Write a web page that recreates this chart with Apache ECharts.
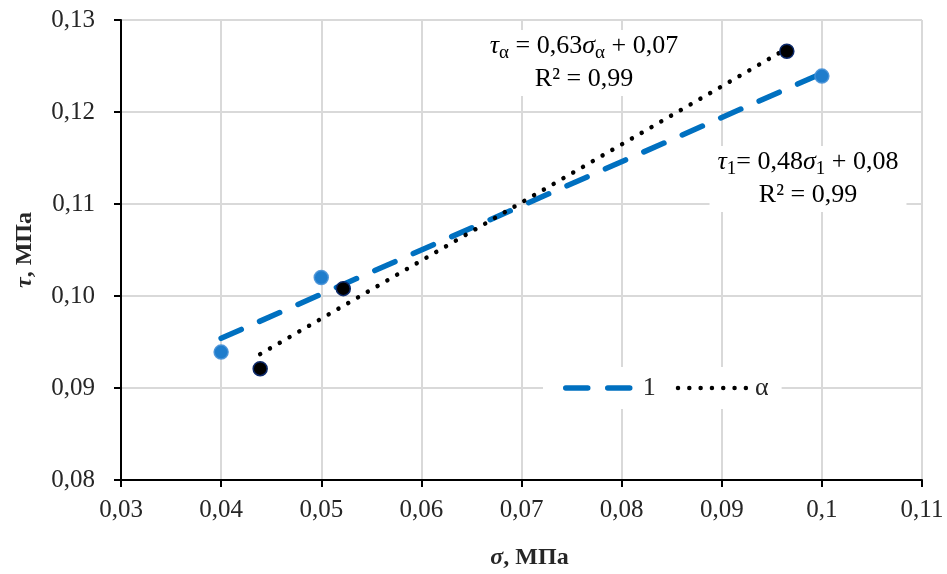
<!DOCTYPE html>
<html>
<head>
<meta charset="utf-8">
<script src="https://cdn.jsdelivr.net/npm/echarts@6/dist/echarts.min.js"></script>
<style>
html,body{margin:0;padding:0;background:#fff;}
#chart{width:947px;height:574px;}
</style>
</head>
<body>
<div id="chart"></div>
<script>
// ---- data ----
var series1X = [0.04, 0.05, 0.10];
var series1Y = [0.0939, 0.1020, 0.1239];
var seriesAX = [0.0439, 0.0522, 0.0965];
var seriesAY = [0.0921, 0.1008, 0.1266];
var legendNames = ['1', 'α'];
var xTickLabels = ['0,03','0,04','0,05','0,06','0,07','0,08','0,09','0,1','0,11'];
var yTickLabels = ['0,08','0,09','0,10','0,11','0,12','0,13'];
var xMin = 0.03, xMax = 0.11, xStep = 0.01;
var yMin = 0.08, yMax = 0.13, yStep = 0.01;

function zip(xs, ys){ return xs.map(function(x,i){ return [x, ys[i]]; }); }
function fit(xs, ys){
  var n = xs.length, mx = 0, my = 0;
  for (var i=0;i<n;i++){ mx += xs[i]; my += ys[i]; }
  mx/=n; my/=n;
  var sxx=0, sxy=0;
  for (i=0;i<n;i++){ sxx += (xs[i]-mx)*(xs[i]-mx); sxy += (xs[i]-mx)*(ys[i]-my); }
  var b = sxy/sxx, a = my - b*mx;
  var lo = Math.min.apply(null, xs), hi = Math.max.apply(null, xs);
  return [[lo, a+b*lo],[hi, a+b*hi]];
}

var FONT = '"Liberation Serif", "Times New Roman", serif';
var chart = echarts.init(document.getElementById('chart'), null, {renderer:'canvas'});

var blueLine = {color: '#0070C0', width: 5.5, type: [22, 20], cap: 'round'};
var dotLine = {color: '#000000', width: 4.5, type: [0.01, 11.3], cap: 'round'};

var option = {
  backgroundColor: '#ffffff',
  animation: false,
  grid: {left: 121, right: 25, top: 20, bottom: 94, containLabel: false, outerBoundsMode: 'none'},
  xAxis: {
    type: 'value', min: xMin, max: xMax, interval: xStep,
    name: '{i|σ}{b|, МПа}', nameLocation: 'middle', nameGap: 66,
    nameTextStyle: {
      padding: [0, 0, 0, 16],
      rich: {
        i: {fontFamily: FONT, fontSize: 24, fontWeight: 'bold', fontStyle: 'italic', color: '#262626'},
        b: {fontFamily: FONT, fontSize: 24, fontWeight: 'bold', color: '#262626'}
      }
    },
    axisLine: {show: true, onZero: false, lineStyle: {color: '#000', width: 2}},
    axisTick: {show: true, inside: false, length: 7, lineStyle: {color: '#000', width: 2}},
    axisLabel: {
      margin: 18, fontFamily: FONT, fontSize: 25, color: '#262626',
      formatter: function(v){ return xTickLabels[Math.round((v - xMin)/xStep)]; }
    },
    splitLine: {show: true, lineStyle: {color: '#d9d9d9', width: 2}}
  },
  yAxis: {
    type: 'value', min: yMin, max: yMax, interval: yStep,
    name: '{i|τ}{b|, МПа}', nameLocation: 'middle', nameGap: 84, nameRotate: 90,
    nameTextStyle: {
      rich: {
        i: {fontFamily: FONT, fontSize: 24, fontWeight: 'bold', fontStyle: 'italic', color: '#262626'},
        b: {fontFamily: FONT, fontSize: 24, fontWeight: 'bold', color: '#262626'}
      }
    },
    axisLine: {show: true, onZero: false, lineStyle: {color: '#000', width: 2}},
    axisTick: {show: true, inside: false, length: 7, lineStyle: {color: '#000', width: 2}},
    axisLabel: {
      margin: 26, fontFamily: FONT, fontSize: 25, color: '#262626',
      formatter: function(v){ return yTickLabels[Math.round((v - yMin)/yStep)]; }
    },
    splitLine: {show: true, lineStyle: {color: '#d9d9d9', width: 2}}
  },
  legend: {
    show: true,
    data: [
      {name: legendNames[0], itemStyle: {opacity: 0}, lineStyle: blueLine},
      {name: legendNames[1], itemStyle: {opacity: 0}, lineStyle: dotLine}
    ],
    left: 543, top: 367,
    backgroundColor: '#ffffff',
    padding: [8, 13, 8, 20],
    itemGap: 20,
    itemWidth: 72, itemHeight: 14,
    itemStyle: {opacity: 0},
    lineStyle: {width: 'inherit', type: 'inherit', cap: 'round'},
    textStyle: {fontFamily: FONT, fontSize: 26, color: '#262626'}
  },
  series: [
    {
      name: legendNames[0], type: 'line', data: fit(series1X, series1Y),
      showSymbol: false, symbol: 'none', z: 3,
      lineStyle: blueLine,
      itemStyle: {color: '#0070C0'}
    },
    {
      name: legendNames[1], type: 'line', data: fit(seriesAX, seriesAY),
      showSymbol: false, symbol: 'none', z: 3,
      lineStyle: dotLine,
      itemStyle: {color: '#000000'}
    },
    {
      name: 'pts1', type: 'scatter', data: zip(series1X, series1Y),
      symbol: 'circle', symbolSize: 14, z: 4,
      itemStyle: {color: '#1f7dcc', opacity: 1, borderColor: 'rgba(70,145,215,0.9)', borderWidth: 1.5}
    },
    {
      name: 'ptsA', type: 'scatter', data: zip(seriesAX, seriesAY),
      symbol: 'circle', symbolSize: 14, z: 4,
      itemStyle: {color: '#000000', opacity: 1, borderColor: '#0d2a6b', borderWidth: 1.5}
    }
  ]
};
chart.setOption(option);

var eqRich = {
  n: {fontFamily: FONT, fontSize: 26, color: '#262626', lineHeight: 33},
  i: {fontFamily: FONT, fontSize: 26, fontStyle: 'italic', color: '#262626', lineHeight: 33},
  s: {fontFamily: FONT, fontSize: 19, color: '#262626', lineHeight: 33, padding: [14, 0, 0, 0]}
};
chart.setOption({
  graphic: [
    {
      type: 'text', z: 10,
      x: 584, y: 30,
      style: {
        text: '{i|τ}{s|α}{n| = 0,63}{i|σ}{s|α}{n| + 0,07}\n{n|R² = 0,99}',
        rich: eqRich, align: 'center', verticalAlign: 'top',
        backgroundColor: '#ffffff', padding: [0, 6, 0, 6]
      }
    },
    {
      type: 'text', z: 10,
      x: 808, y: 146,
      style: {
        text: '{i|τ}{s|1}{n|= 0,48}{i|σ}{s|1}{n| + 0,08}\n{n|R² = 0,99}',
        rich: eqRich, align: 'center', verticalAlign: 'top',
        backgroundColor: '#ffffff', padding: [0, 8, 0, 8]
      }
    }
  ]
});
</script>
</body>
</html>
